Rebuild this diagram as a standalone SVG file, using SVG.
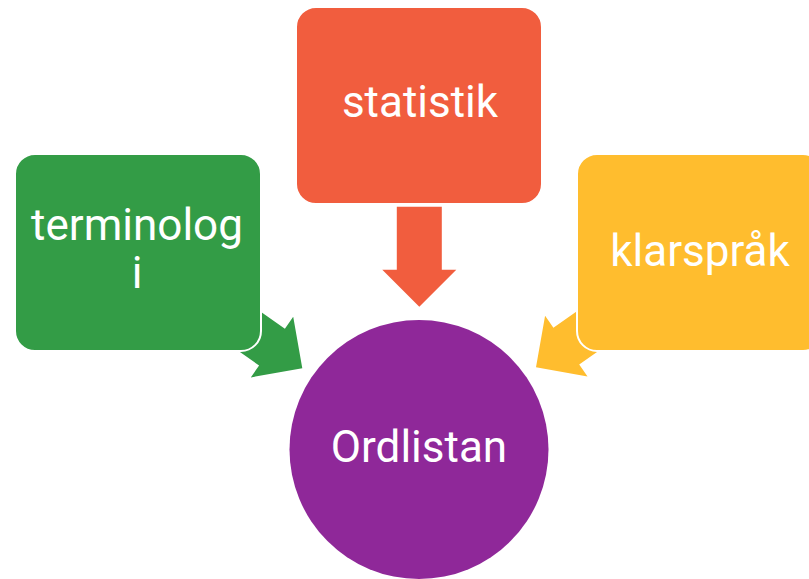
<svg xmlns="http://www.w3.org/2000/svg" width="809" height="579" viewBox="0 0 809 579">
  <defs>
    <style>
      .box { stroke: #ffffff; stroke-width: 2; }
      .lbl { font-family: Roboto, "Liberation Sans", sans-serif; font-size: 44px; fill: #ffffff; text-anchor: middle; }
    </style>
    <polygon id="arrow" points="-100,-22.5 -37,-22.5 -37,-37 0,0 -37,37 -37,22.5 -100,22.5"/>
  </defs>
  <rect width="809" height="579" fill="#ffffff"/>
  <g id="connectors">
    <use href="#arrow" fill="#339C46" transform="translate(302.3,368.3) rotate(35)"/>
    <use href="#arrow" fill="#F15D3E" transform="translate(419.3,306.7) rotate(90)"/>
    <use href="#arrow" fill="#FFBD2E" transform="translate(536,367.3) scale(-1,1) rotate(35)"/>
  </g>
  <g id="node-terminologi">
    <rect class="box" x="15" y="154" width="246" height="197" rx="20" fill="#339C46"/>
    <text class="lbl" x="137" y="240">terminolog</text>
    <text class="lbl" x="137" y="288">i</text>
  </g>
  <g id="node-statistik">
    <rect class="box" x="296" y="7" width="246" height="197" rx="20" fill="#F15D3E"/>
    <text class="lbl" x="420" y="117">statistik</text>
  </g>
  <g id="node-klarsprak">
    <rect class="box" x="577" y="154" width="246" height="197" rx="20" fill="#FFBD2E"/>
    <text class="lbl" x="700" y="266">klarspråk</text>
  </g>
  <g id="node-ordlistan">
    <circle cx="419" cy="449.5" r="129.5" fill="#8F2899"/>
    <text class="lbl" x="419" y="462">Ordlistan</text>
  </g>
</svg>
